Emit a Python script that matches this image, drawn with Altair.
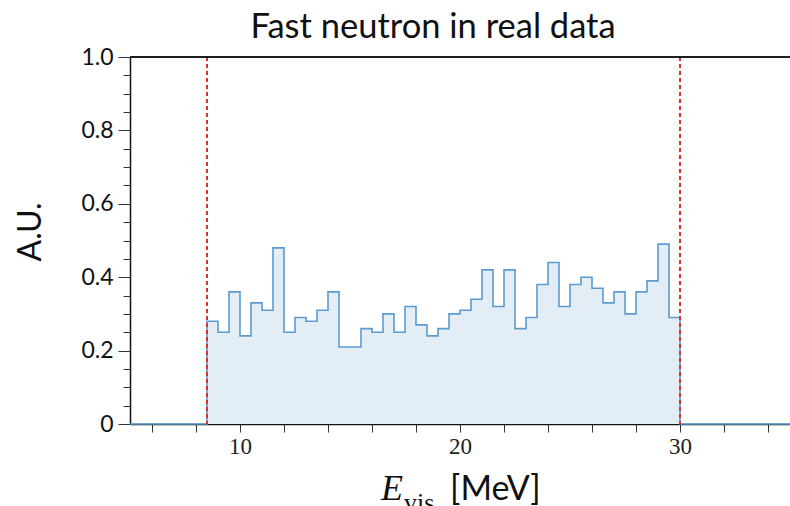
import altair as alt
import pandas as pd

# Histogram: 0.5 MeV bins from 8.5 to 30 MeV
bin_start = 8.5
bin_width = 0.5
counts = [0.28, 0.25, 0.36, 0.24, 0.33, 0.31, 0.48, 0.25, 0.29, 0.28,
          0.31, 0.36, 0.21, 0.21, 0.26, 0.25, 0.30, 0.25, 0.32, 0.27,
          0.24, 0.26, 0.30, 0.31, 0.34, 0.42, 0.32, 0.42, 0.26, 0.29,
          0.38, 0.44, 0.32, 0.38, 0.40, 0.37, 0.33, 0.36, 0.30, 0.36,
          0.39, 0.49, 0.29]
x_range = [5, 35]
cut_edges = [8.5, 30]
y_ticks = [round(i * 0.05, 2) for i in range(21)]
x_ticks = list(range(6, 35, 2))

xs = [x_range[0]] + [bin_start + i * bin_width for i in range(len(counts))] + [cut_edges[1], x_range[1]]
ys = [0] + counts + [0, 0]
hist = pd.DataFrame({"E": xs, "v": ys})
cuts = pd.DataFrame({"E": cut_edges})

W, H = 660, 367

xscale = alt.Scale(domain=x_range, nice=False, zero=False)
yscale = alt.Scale(domain=[0, 1], nice=False)

major_test = "abs(datum.value*5 - round(datum.value*5)) < 0.001"

xaxis = alt.Axis(values=x_ticks, title=None, grid=False,
                 labelExpr="datum.value % 10 == 0 ? datum.value : ''",
                 labelFont="Liberation Serif", labelFontSize=23, labelColor="#222",
                 labelPadding=3, tickSize=8, tickColor="#333", domainColor="#111",
                 domainWidth=1.5)
yaxis = alt.Axis(values=y_ticks, title=None, grid=False,
                 labelExpr=f"{major_test} ? (datum.value == 0 ? '0' : format(datum.value, '.1f')) : ''",
                 labelFont="Lato", labelFontSize=23, labelColor="#111",
                 labelPadding=5,
                 tickSize={"condition": {"test": major_test, "value": 12}, "value": 7},
                 tickColor="#333", domainColor="#111", domainWidth=1.5)

X = alt.X("E:Q", scale=xscale, axis=xaxis)
Y = alt.Y("v:Q", scale=yscale, axis=yaxis)

area = alt.Chart(hist).mark_area(interpolate="step-after", color="#e2edf6", opacity=1).encode(x=X, y=Y)
line = alt.Chart(hist).mark_line(interpolate="step-after", color="#5b9bd0", strokeWidth=1.6).encode(x=X, y=Y)
rules = alt.Chart(cuts).mark_rule(color="#d9342b", strokeDash=[4, 3], strokeWidth=2).encode(
    x=X, y=alt.value(0), y2=alt.value(H),
)
top = alt.Chart(cuts).mark_rule(color="#111", strokeWidth=1.5).encode(
    x=alt.value(0), x2=alt.value(W), y=alt.value(0)
)

title = alt.Chart(pd.DataFrame({"t": ["Fast neutron in real data"]})).mark_text(
    font="Lato", fontSize=34.5, color="#111", align="center", baseline="alphabetic"
).encode(x=alt.value(303), y=alt.value(-19), text="t:N")

ytitle = alt.Chart(pd.DataFrame({"t": ["A.U."]})).mark_text(
    font="Lato", fontSize=32, color="#111", align="center", baseline="middle", angle=270
).encode(x=alt.value(-99), y=alt.value(175), text="t:N")

xt_E = alt.Chart(pd.DataFrame({"t": ["E"]})).mark_text(
    font="Liberation Serif", fontStyle="italic", fontSize=36, color="#111", align="left", baseline="alphabetic"
).encode(x=alt.value(251), y=alt.value(443), text="t:N")
xt_vis = alt.Chart(pd.DataFrame({"t": ["vis"]})).mark_text(
    font="Liberation Serif", fontSize=26, color="#111", align="left", baseline="alphabetic"
).encode(x=alt.value(274), y=alt.value(454), text="t:N")
xt_unit = alt.Chart(pd.DataFrame({"t": ["[MeV]"]})).mark_text(
    font="Lato", fontSize=34, color="#111", align="left", baseline="alphabetic"
).encode(x=alt.value(320), y=alt.value(443), text="t:N")

chart = alt.layer(area, line, rules, top, title, ytitle, xt_E, xt_vis, xt_unit).properties(
    width=W, height=H,
    autosize=alt.AutoSizeParams(type="none"),
    padding={"left": 130, "top": 57, "right": 0, "bottom": 82},
).configure_view(stroke=None)

chart.save("out.html", embed_options={"renderer": "svg", "actions": False})
